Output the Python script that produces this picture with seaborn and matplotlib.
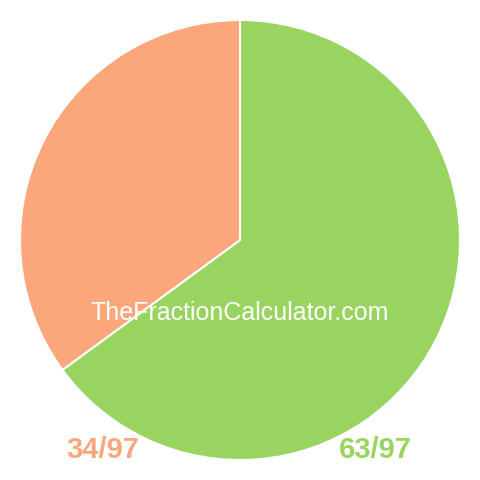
import matplotlib
matplotlib.use("Agg")
import matplotlib.pyplot as plt
import seaborn as sns

# fraction parts
numerators = [63, 34]
denominator = 97
labels = [f"{n}/{denominator}" for n in numerators]
colors = ["#98d45f", "#fca67b"]

sns.set_style("white")
plt.rcParams['font.family'] = ['Liberation Sans', 'DejaVu Sans']

fig = plt.figure(figsize=(4.8, 4.8), dpi=100)
ax = fig.add_axes([0, 0, 1, 1])

ax.pie(numerators, colors=colors, startangle=90, counterclock=False,
       radius=1, wedgeprops=dict(edgecolor="white", linewidth=1.5))

lim = 240 / 220
ax.set_xlim(-lim, lim)
ax.set_ylim(-lim, lim)
ax.set_aspect("equal")
ax.axis("off")

# watermark
ax.text(0, -0.33, "TheFractionCalculator.com", color="white", fontsize=18,
        ha="center", va="center")

# fraction labels under the pie
ax.text(0.614, -0.955, labels[0], color=colors[0], fontsize=21,
        fontweight="bold", ha="center", va="center")
ax.text(-0.623, -0.955, labels[1], color=colors[1], fontsize=21,
        fontweight="bold", ha="center", va="center")

fig.savefig("out.png", dpi=100)
